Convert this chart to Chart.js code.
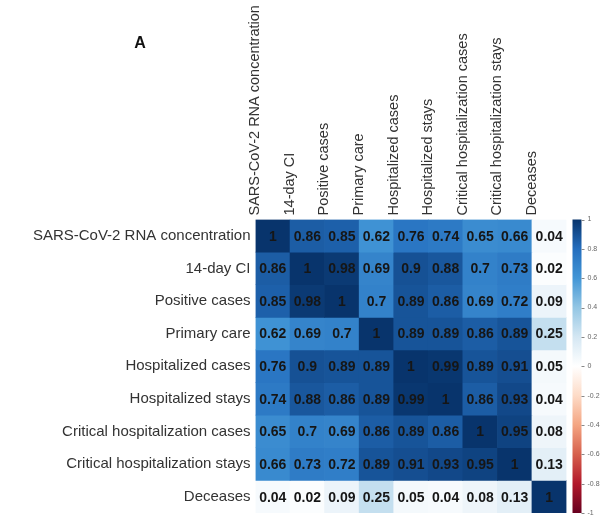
<!DOCTYPE html>
<html>
<head>
<meta charset="utf-8">
<script src="https://cdn.jsdelivr.net/npm/chart.js@4/dist/chart.umd.min.js"></script>
<style>
  html, body { margin: 0; padding: 0; background: #ffffff; }
  #wrap { width: 605px; height: 515px; position: relative; }
</style>
</head>
<body>
<div id="wrap"><canvas id="corr"></canvas></div>
<script>
// Variables compared in the correlation matrix (rows and columns share this order)
const variables = [
  "SARS-CoV-2 RNA concentration",
  "14-day CI",
  "Positive cases",
  "Primary care",
  "Hospitalized cases",
  "Hospitalized stays",
  "Critical hospitalization cases",
  "Critical hospitalization stays",
  "Deceases"
];

// Correlation coefficients, one array per row
const rowSars      = [1, 0.86, 0.85, 0.62, 0.76, 0.74, 0.65, 0.66, 0.04];
const row14dayCI   = [0.86, 1, 0.98, 0.69, 0.9, 0.88, 0.7, 0.73, 0.02];
const rowPositive  = [0.85, 0.98, 1, 0.7, 0.89, 0.86, 0.69, 0.72, 0.09];
const rowPrimary   = [0.62, 0.69, 0.7, 1, 0.89, 0.89, 0.86, 0.89, 0.25];
const rowHospCases = [0.76, 0.9, 0.89, 0.89, 1, 0.99, 0.89, 0.91, 0.05];
const rowHospStays = [0.74, 0.88, 0.86, 0.89, 0.99, 1, 0.86, 0.93, 0.04];
const rowCritCases = [0.65, 0.7, 0.69, 0.86, 0.89, 0.86, 1, 0.95, 0.08];
const rowCritStays = [0.66, 0.73, 0.72, 0.89, 0.91, 0.93, 0.95, 1, 0.13];
const rowDeceases  = [0.04, 0.02, 0.09, 0.25, 0.05, 0.04, 0.08, 0.13, 1];

// Colour bar tick values
const colorbarTicks = [1, 0.8, 0.6, 0.4, 0.2, 0, -0.2, -0.4, -0.6, -0.8, -1];

const matrix = [rowSars, row14dayCI, rowPositive, rowPrimary, rowHospCases,
                rowHospStays, rowCritCases, rowCritStays, rowDeceases];

// Diverging red-white-blue palette, stops from -1 to 1
const paletteStops = [
  [-1.0, [103, 0, 31]],
  [-0.8, [178, 24, 43]],
  [-0.6, [214, 96, 77]],
  [-0.4, [244, 165, 130]],
  [-0.2, [253, 219, 199]],
  [ 0.0, [255, 255, 255]],
  [ 0.2, [212, 231, 243]],
  [ 0.4, [147, 198, 228]],
  [ 0.6, [66, 150, 214]],
  [ 0.8, [36, 110, 190]],
  [ 1.0, [8, 52, 108]]
];

function corrColor(v) {
  for (let i = 1; i < paletteStops.length; i++) {
    const [v1, c1] = paletteStops[i];
    const [v0, c0] = paletteStops[i - 1];
    if (v <= v1) {
      const t = (v - v0) / (v1 - v0);
      const c = c0.map((ch, k) => Math.round(ch + (c1[k] - ch) * t));
      return `rgb(${c[0]},${c[1]},${c[2]})`;
    }
  }
  const c = paletteStops[paletteStops.length - 1][1];
  return `rgb(${c[0]},${c[1]},${c[2]})`;
}

const FONT = "'Liberation Sans', Arial, Helvetica, sans-serif";

// Each row is a dataset of floating bars spanning one band of the y scale
const datasets = matrix.map((row, r) => ({
  label: variables[r],
  data: row.map(() => [r, r + 1]),
  corr: row,
  backgroundColor: row.map(corrColor),
  borderWidth: 0,
  barPercentage: 1,
  categoryPercentage: 1,
  grouped: false
}));

// Coefficient text inside every cell
const cellLabels = {
  id: 'cellLabels',
  afterDatasetsDraw(chart) {
    const ctx = chart.ctx;
    ctx.save();
    ctx.font = `bold 14px ${FONT}`;
    ctx.fillStyle = '#161616';
    ctx.textAlign = 'center';
    ctx.textBaseline = 'middle';
    chart.data.datasets.forEach((ds, di) => {
      chart.getDatasetMeta(di).data.forEach((bar, i) => {
        const p = bar.getProps(['x', 'y', 'base'], true);
        ctx.fillText(String(ds.corr[i]), p.x, (p.y + p.base) / 2 + 1);
      });
    });
    ctx.restore();
  }
};

// Gradient colour bar placed along the right-hand scale
const colorBar = {
  id: 'colorBar',
  afterDraw(chart) {
    const scale = chart.scales.cb;
    const ctx = chart.ctx;
    const x0 = chart.chartArea.right + 6;
    const w = 9;
    const top = scale.getPixelForValue(1);
    const bottom = scale.getPixelForValue(-1);
    const grad = ctx.createLinearGradient(0, top, 0, bottom);
    for (let i = paletteStops.length - 1; i >= 0; i--) {
      const [v, c] = paletteStops[i];
      grad.addColorStop((1 - v) / 2, `rgb(${c[0]},${c[1]},${c[2]})`);
    }
    ctx.save();
    ctx.fillStyle = grad;
    ctx.fillRect(x0, top, w, bottom - top);
    ctx.strokeStyle = '#888888';
    ctx.lineWidth = 1;
    colorbarTicks.forEach(v => {
      const y = Math.round(scale.getPixelForValue(v)) + 0.5;
      ctx.beginPath();
      ctx.moveTo(x0 + w, y);
      ctx.lineTo(x0 + w + 3, y);
      ctx.stroke();
    });
    ctx.restore();
  }
};

// Panel letter
const panelLetter = {
  id: 'panelLetter',
  afterDraw(chart) {
    const ctx = chart.ctx;
    ctx.save();
    ctx.font = `bold 16px ${FONT}`;
    ctx.fillStyle = '#111111';
    ctx.textAlign = 'center';
    ctx.textBaseline = 'alphabetic';
    ctx.fillText('A', 140, 48);
    ctx.restore();
  }
};

// Keep axis label overhang from shrinking the matrix area
function noOverhang(s) {
  s.paddingTop = 0;
  s.paddingBottom = 0;
  s.paddingLeft = 0;
  s.paddingRight = 0;
}

new Chart(document.getElementById('corr'), {
  type: 'bar',
  data: { labels: variables, datasets },
  plugins: [cellLabels, colorBar, panelLetter],
  options: {
    responsive: true,
    maintainAspectRatio: false,
    animation: false,
    layout: { padding: { top: 0, left: 0, right: 3, bottom: 2 } },
    plugins: { legend: { display: false }, tooltip: { enabled: false }, title: { display: false } },
    scales: {
      x: {
        type: 'category',
        position: 'top',
        offset: true,
        grid: { display: false, drawTicks: false },
        border: { display: false },
        ticks: {
          autoSkip: false,
          minRotation: 90,
          maxRotation: 90,
          padding: 4,
          color: '#333333',
          font: { family: FONT, size: 14.5 }
        },
        afterFit(s) { s.height = 219.5; noOverhang(s); }
      },
      y: {
        type: 'linear',
        min: 0,
        max: 9,
        reverse: true,
        display: false
      },
      rows: {
        type: 'category',
        axis: 'y',
        position: 'left',
        labels: variables,
        offset: true,
        grid: { display: false, drawTicks: false },
        border: { display: false },
        ticks: {
          autoSkip: false,
          padding: 5,
          color: '#333333',
          font: { family: FONT, size: 15 }
        },
        afterFit(s) { s.width = 255.5; noOverhang(s); }
      },
      cb: {
        type: 'linear',
        axis: 'y',
        position: 'right',
        min: -1,
        max: 1,
        grid: { display: false, drawTicks: false },
        border: { display: false },
        afterBuildTicks(s) { s.ticks = colorbarTicks.map(v => ({ value: v })); },
        ticks: {
          padding: 21,
          color: '#666666',
          font: { family: FONT, size: 7 },
          callback: v => String(Math.round(v * 10) / 10)
        },
        afterFit(s) { s.width = 35.5; noOverhang(s); }
      }
    }
  }
});
</script>
</body>
</html>
